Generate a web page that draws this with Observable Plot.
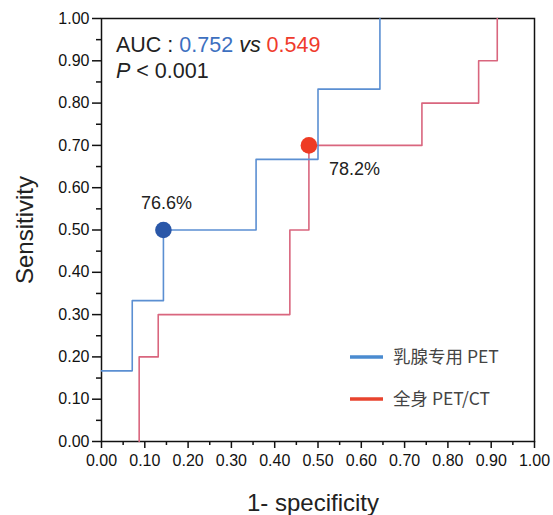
<!DOCTYPE html>
<html>
<head>
<meta charset="utf-8">
<script src="https://cdn.jsdelivr.net/npm/d3@7"></script>
<script src="https://cdn.jsdelivr.net/npm/@observablehq/plot@0.6"></script>
<style>
  html, body { margin: 0; padding: 0; background: #fff; }
  #chart { position: relative; width: 553px; height: 515px; }
</style>
</head>
<body>
<div id="chart"></div>
<script>
// ROC curve corners
const dedicatedFpr = [0, 0.071, 0.071, 0.143, 0.143, 0.357, 0.357, 0.500, 0.500, 0.643, 0.643];
const dedicatedTpr = [0.167, 0.167, 0.333, 0.333, 0.500, 0.500, 0.667, 0.667, 0.833, 0.833, 1.000];
const wholeFpr = [0.087, 0.087, 0.131, 0.131, 0.435, 0.435, 0.479, 0.479, 0.740, 0.740, 0.871, 0.871, 0.914, 0.914];
const wholeTpr = [0.000, 0.200, 0.200, 0.300, 0.300, 0.500, 0.500, 0.700, 0.700, 0.800, 0.800, 0.900, 0.900, 1.000];

// cut-off points
const cutFpr = [0.143, 0.479];
const cutTpr = [0.500, 0.700];
const cutLabels = ["76.6%", "78.2%"];

const seriesNames = ["乳腺专用 PET", "全身 PET/CT"];
const aucValues = ["0.752", "0.549"];
const pText = "< 0.001";

const majorTicks = [0, 0.1, 0.2, 0.3, 0.4, 0.5, 0.6, 0.7, 0.8, 0.9, 1.0];
const minorTicks = [0.05, 0.15, 0.25, 0.35, 0.45, 0.55, 0.65, 0.75, 0.85, 0.95];

const blueLine = "#5b8fd2";
const redLine = "#d9667e";
const blueDot = "#2a57a8";
const redDot = "#ee3b24";

const dedicated = dedicatedFpr.map((x, i) => ({x, y: dedicatedTpr[i]}));
const whole = wholeFpr.map((x, i) => ({x, y: wholeTpr[i]}));
const cuts = cutFpr.map((x, i) => ({x, y: cutTpr[i], label: cutLabels[i], color: [blueDot, redDot][i]}));

const font = "'Liberation Sans', Arial, Helvetica, sans-serif";

const plot = Plot.plot({
  width: 553,
  height: 515,
  marginLeft: 101,
  marginRight: 19,
  marginTop: 18,
  marginBottom: 74,
  style: {fontFamily: font, fontSize: "16px", color: "#111", background: "#fff"},
  x: {domain: [0, 1]},
  y: {domain: [0, 1]},
  marks: [
    Plot.axisX({ticks: majorTicks, tickSize: 7, tickPadding: 6, tickFormat: d3.format(".2f"), label: null, strokeWidth: 1.5, fontSize: 16}),
    Plot.axisX({ticks: minorTicks, tickSize: 4, tickFormat: () => "", label: null, strokeWidth: 1.5}),
    Plot.axisY({ticks: majorTicks, tickSize: 9, tickPadding: 3, tickFormat: d3.format(".2f"), label: null, strokeWidth: 1.5, fontSize: 16}),
    Plot.axisY({ticks: minorTicks, tickSize: 5, tickFormat: () => "", label: null, strokeWidth: 1.5}),
    Plot.frame({stroke: "#111", strokeWidth: 1.5}),
    Plot.line(whole, {x: "x", y: "y", stroke: redLine, strokeWidth: 1.6}),
    Plot.line(dedicated, {x: "x", y: "y", stroke: blueLine, strokeWidth: 1.6}),
    Plot.dot(cuts, {x: "x", y: "y", r: 8.3, fill: "color", stroke: null}),
    Plot.text(cuts.slice(0, 1), {x: "x", y: "y", text: "label", dx: 3, dy: -27, fontSize: 18, fill: "#222", textAnchor: "middle"}),
    Plot.text(cuts.slice(1, 2), {x: "x", y: "y", text: "label", dx: 20, dy: 24, fontSize: 18, fill: "#222", textAnchor: "start"}),
    Plot.text(["Sensitivity"], {frameAnchor: "left", text: d => d, rotate: -90, dx: -76, fontSize: 24, fill: "#222", textAnchor: "middle", lineAnchor: "middle"}),
    Plot.text(["1- specificity"], {frameAnchor: "bottom", text: d => d, dx: -5, dy: 62, fontSize: 24, fill: "#222", textAnchor: "middle", lineAnchor: "middle"})
  ]
});

const svg = d3.select(plot);

// AUC annotation
const t1 = svg.append("text").attr("x", 116).attr("y", 52).attr("text-anchor", "start").attr("font-size", 21.5).attr("font-family", font).attr("fill", "#222");
t1.append("tspan").text("AUC : ");
t1.append("tspan").attr("fill", "#3d70c0").text(aucValues[0]);
t1.append("tspan").text(" ");
t1.append("tspan").attr("font-style", "italic").text("vs");
t1.append("tspan").text(" ");
t1.append("tspan").attr("fill", "#ef3b2c").text(aucValues[1]);
const t2 = svg.append("text").attr("x", 116).attr("y", 78).attr("text-anchor", "start").attr("font-size", 21.5).attr("font-family", font).attr("fill", "#222");
t2.append("tspan").attr("font-style", "italic").text("P");
t2.append("tspan").text(" " + pText);

// legend
const legendColors = ["#4a8bd0", "#e8432e"];
seriesNames.forEach((name, i) => {
  const y = 357 + i * 42;
  svg.append("line").attr("x1", 350).attr("x2", 383).attr("y1", y).attr("y2", y)
    .attr("stroke", legendColors[i]).attr("stroke-width", 3.5);
  svg.append("text").attr("x", 393).attr("y", y).attr("dy", "0.35em").attr("text-anchor", "start")
    .attr("font-size", 17.5).attr("font-family", "'Noto Sans CJK SC', 'Noto Sans', sans-serif")
    .attr("fill", "#444").text(name);
});

document.getElementById("chart").appendChild(plot);
</script>
</body>
</html>
